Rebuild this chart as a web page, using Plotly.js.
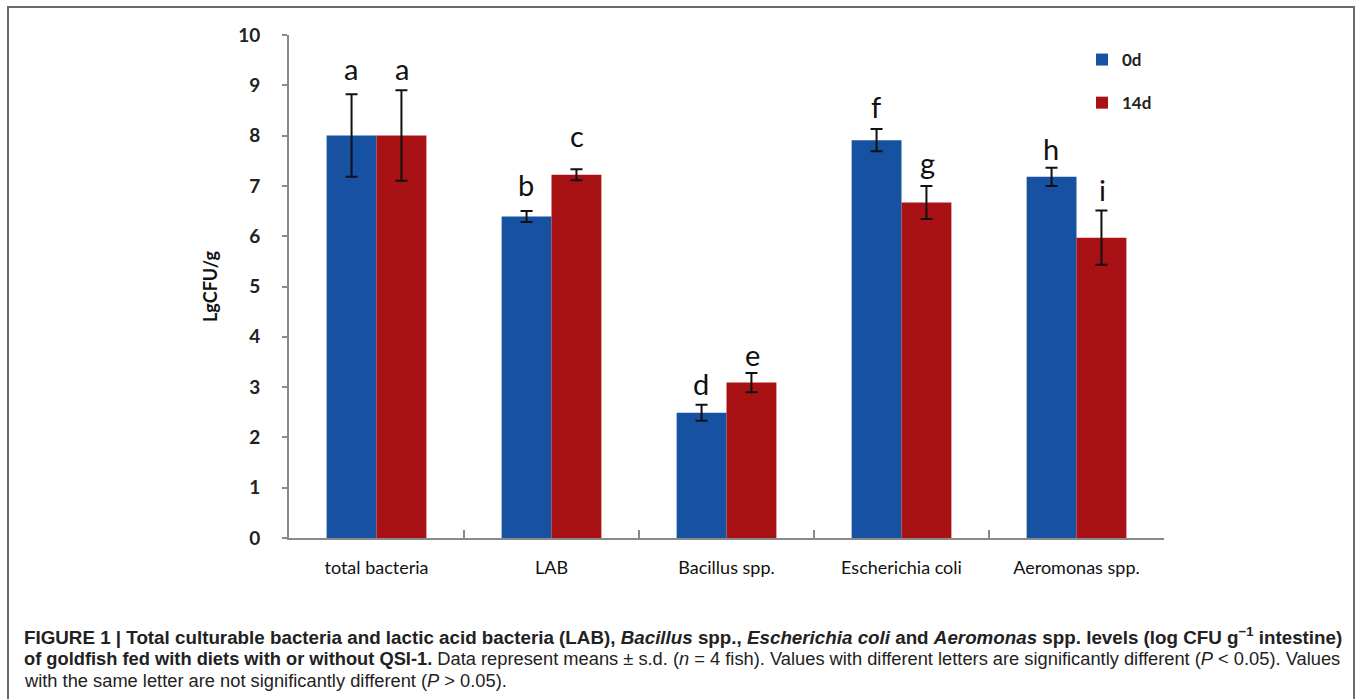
<!DOCTYPE html>
<html>
<head>
<meta charset="utf-8">
<script src="https://cdn.plot.ly/plotly-3.0.1.min.js"></script>
<style>
html,body{margin:0;padding:0;background:#fff;}
#chart{width:1357px;height:699px;}
</style>
</head>
<body>
<div id="chart"></div>
<script>
// ---- data ----
var categories = ["total bacteria", "LAB", "Bacillus spp.", "Escherichia coli", "Aeromonas spp."];
var seriesNames = ["0d", "14d"];
var day0 = [8.00, 6.39, 2.49, 7.91, 7.18];
var day0Err = [0.82, 0.11, 0.16, 0.22, 0.18];
var day14 = [8.00, 7.22, 3.09, 6.67, 5.97];
var day14Err = [0.90, 0.11, 0.19, 0.33, 0.54];
var day0Letters = ["a", "b", "d", "f", "h"];
var day14Letters = ["a", "c", "e", "g", "i"];
var day0LetterY = [9.34, 7.02, 3.08, 8.57, 7.75];
var day14LetterY = [9.34, 8.01, 3.64, 7.46, 6.92];
var yTicks = [0, 1, 2, 3, 4, 5, 6, 7, 8, 9, 10];

var captionLines = [
  "<b>FIGURE 1 | Total culturable bacteria and lactic acid bacteria (LAB), <i>Bacillus</i> spp., <i>Escherichia coli</i> and <i>Aeromonas</i> spp. levels (log CFU g<sup>\u22121</sup> intestine)</b>",
  "<b>of goldfish fed with diets with or without QSI-1.</b> Data represent means \u00b1 s.d. (<i>n</i> = 4 fish). Values with different letters are significantly different (<i>P</i> &lt; 0.05). Values",
  "with the same letter are not significantly different (<i>P</i> &gt; 0.05)."
];
var captionSizes = [18.8, 18.3, 18.3];

// ---- style ----
var BLUE = "#1651a2", RED = "#a81214", AXIS = "#8a8a8a";
var chartFont = "Lato, 'Open Sans', sans-serif";

var traces = [
  {type: "bar", name: seriesNames[0], x: categories, y: day0, legendgroup: "g0",
   marker: {color: BLUE},
   error_y: {type: "data", array: day0Err, visible: true, color: "#111", thickness: 2, width: 6}},
  {type: "bar", name: seriesNames[1], x: categories, y: day14, legendgroup: "g1",
   marker: {color: RED},
   error_y: {type: "data", array: day14Err, visible: true, color: "#111", thickness: 2, width: 6}}
];

var annotations = [];
categories.forEach(function (c, i) {
  annotations.push({x: c, y: day0LetterY[i], xref: "x", yref: "y", text: day0Letters[i],
    showarrow: false, xshift: -25.5, font: {family: chartFont, size: 29, color: "#111"}});
  annotations.push({x: c, y: day14LetterY[i], xref: "x", yref: "y", text: day14Letters[i],
    showarrow: false, xshift: 25.5, font: {family: chartFont, size: 29, color: "#111"}});
});
// caption
var L = 289, W = 875, B = 538, H = 503;
function px2x(p){ return (p - L) / W; }
function py2y(p){ return (B - p) / H; }
var capY = [636, 658, 680];
captionLines.forEach(function (t, i) {
  annotations.push({xref: "paper", yref: "paper", x: px2x(22), y: py2y(capY[i]),
    xanchor: "left", yanchor: "middle", showarrow: false, text: t, align: "left",
    font: {family: "'Liberation Sans', Arial, sans-serif", size: captionSizes[i], color: "#222"}});
});

var frame = {type: "path", xref: "paper", yref: "paper",
  path: "M" + px2x(8) + "," + py2y(720) + " L" + px2x(8) + "," + py2y(7) +
        " L" + px2x(1354) + "," + py2y(7) + " L" + px2x(1354) + "," + py2y(720),
  line: {color: "#6a6a6a", width: 2}, layer: "above"};

var layout = {
  width: 1357, height: 699,
  margin: {l: 289, r: 193, t: 35, b: 161, pad: 0},
  paper_bgcolor: "#fff", plot_bgcolor: "#fff",
  barmode: "group", bargap: 0.43, bargroupgap: 0,
  font: {family: chartFont, color: "#222"},
  showlegend: true,
  legend: {x: px2x(1082), y: py2y(42), xanchor: "left", yanchor: "top",
    traceorder: "grouped", tracegroupgap: 18, bgcolor: "rgba(0,0,0,0)",
    font: {family: chartFont, size: 17, color: "#222", weight: "bold"}},
  xaxis: {type: "category", showline: true, linecolor: AXIS, linewidth: 2,
    ticks: "inside", tickson: "boundaries", ticklen: 8, tickcolor: AXIS, tickwidth: 2,
    tickfont: {family: chartFont, size: 18, color: "#111"}, ticklabelstandoff: 12,
    showgrid: false, zeroline: false, range: [-0.5, 4.5], fixedrange: true},
  yaxis: {range: [0, 10], tickvals: yTicks, ticktext: yTicks.map(String),
    showline: true, linecolor: AXIS, linewidth: 2, ticks: "outside", ticklen: 5,
    tickcolor: AXIS, tickwidth: 2, showgrid: false, zeroline: false,
    tickfont: {family: chartFont, size: 19, color: "#222", weight: "bold"}, ticklabelstandoff: 18,
    title: {text: "LgCFU/g", standoff: 16, font: {family: chartFont, size: 18, color: "#111", weight: "bold"}}},
  annotations: annotations,
  shapes: [frame]
};

Plotly.newPlot("chart", traces, layout, {displayModeBar: false, staticPlot: true});
</script>
</body>
</html>
